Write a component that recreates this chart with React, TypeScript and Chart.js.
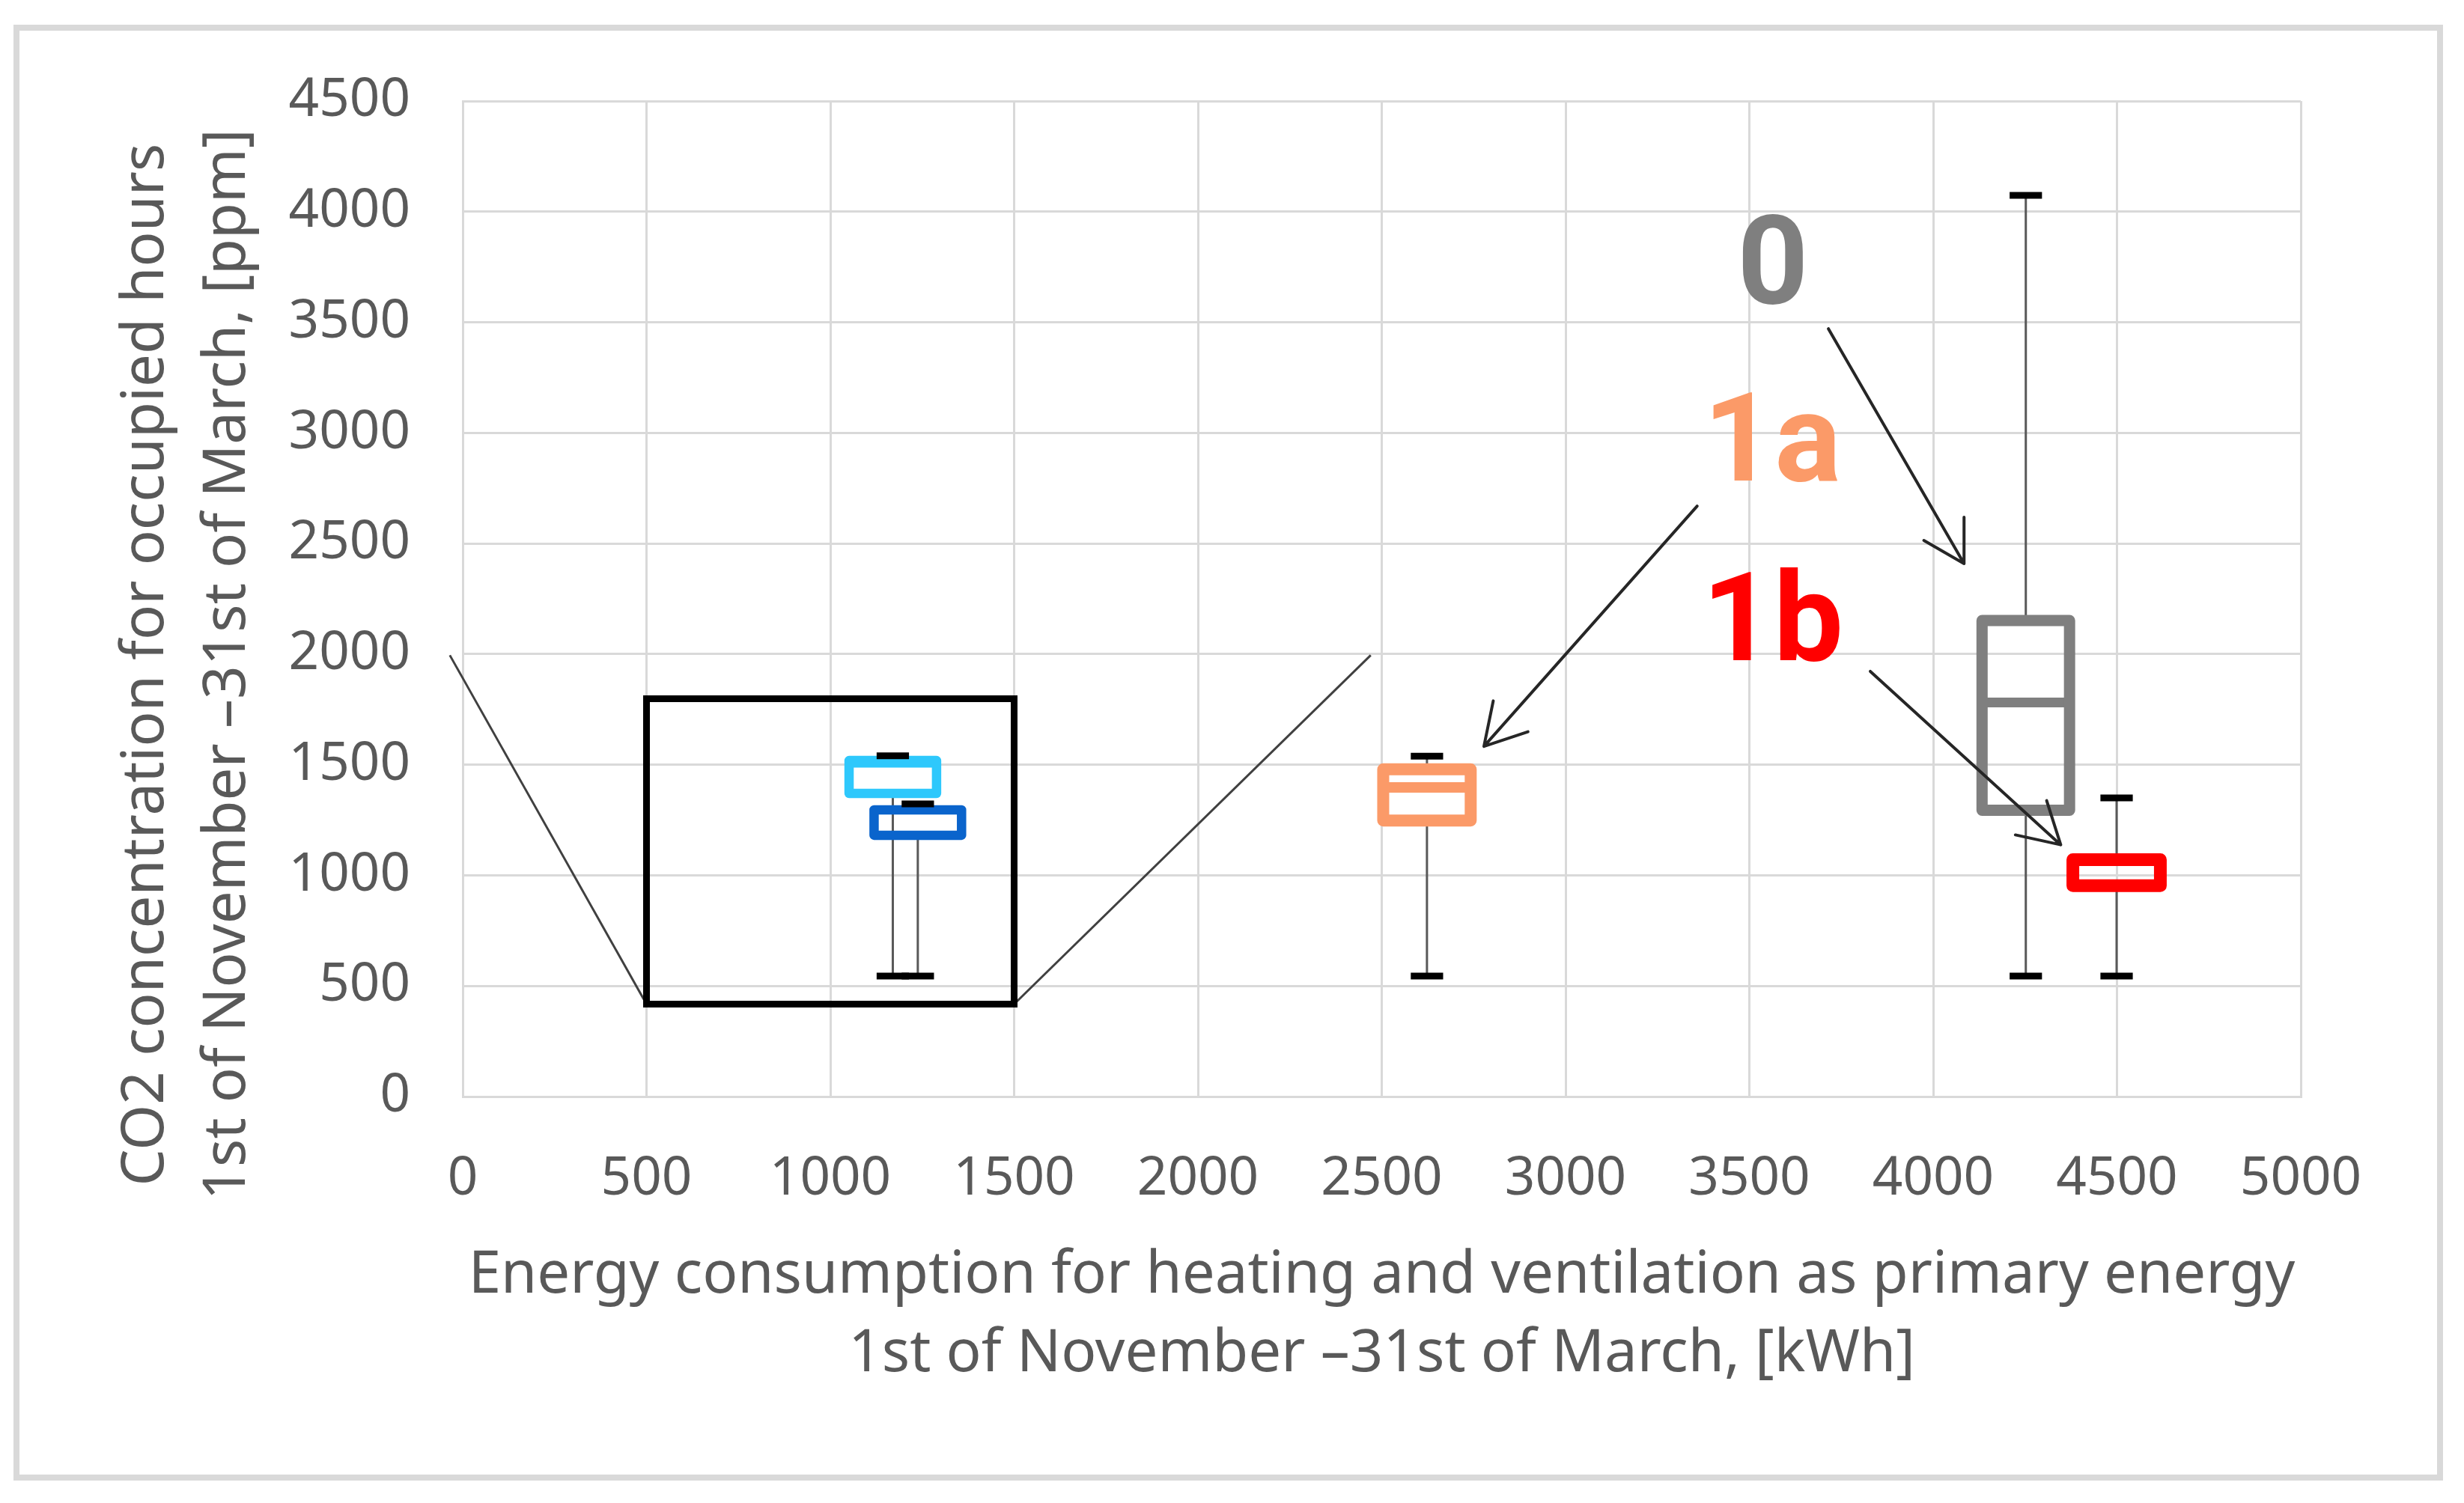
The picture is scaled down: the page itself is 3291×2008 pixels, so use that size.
import React, { useEffect, useRef } from 'react';
import { Chart, registerables } from 'chart.js';

Chart.register(...registerables);

// ---------------- data ----------------
const SERIES = ['A', 'B', '1a', '0', '1b'];
const ENERGY_KWH = [1170, 1238, 2623, 4252, 4499];
const CO2_MIN = [545, 545, 545, 545, 545];
const CO2_Q1 = [1370, 1181, 1248, 1294, 953];
const CO2_MEDIAN = [1505, 1296, 1397, 1781, 1071];
const CO2_Q3 = [1519, 1296, 1479, 2152, 1071];
const CO2_MAX = [1540, 1323, 1539, 4074, 1350];

const X_TICKS = ['0', '500', '1000', '1500', '2000', '2500', '3000', '3500', '4000', '4500', '5000'];
const Y_TICKS = ['0', '500', '1000', '1500', '2000', '2500', '3000', '3500', '4000', '4500'];

const X_TITLE = [
  'Energy consumption for heating and ventilation as primary energy',
  '1st of November \u201331st of March, [kWh]',
];
const Y_TITLE = [
  'CO2 concentration for occupied hours',
  '1st of November \u201331st of March, [ppm]',
];

// zoom frame and its connector lines (data units)
const ZOOM_X = [500, 1500];
const ZOOM_Y = [418, 1798];
const CONNECTOR_LEFT_X = [-35, 500];
const CONNECTOR_LEFT_Y = [1995, 418];
const CONNECTOR_RIGHT_X = [1500, 2470];
const CONNECTOR_RIGHT_Y = [418, 1995];

// annotation labels and arrows (data units)
const NOTE_TEXT = ['0', '1a', '1b'];
const NOTE_X = [3564, 3562, 3564];
const NOTE_Y = [3585, 2785, 1972];
const ARROW_FROM_X = [3715, 3358, 3829];
const ARROW_FROM_Y = [3471, 2669, 1922];
const ARROW_TO_X = [4084, 2778, 4347];
const ARROW_TO_Y = [2409, 1583, 1138];

// ---------------- styles ----------------
const BOX_COLORS = ['#2ec8fc', '#0a64cc', '#fb9a68', '#7f7f7f', '#ff0000'];
const BOX_STROKE = [12.5, 12.5, 16, 15, 17];
const NOTE_COLORS = ['#7f7f7f', '#fb9a68', '#ff0000'];
const BOX_HALF_WIDTH = 119;
const CAP_HALF_WIDTH = 44;
const TEXT_COLOR = '#595959';
const GRID_COLOR = '#d9d9d9';

const W = 3291;
const H = 2008;

function line(points: { x: number; y: number }[], extra: any) {
  return {
    type: 'line',
    data: points,
    showLine: true,
    fill: false,
    tension: 0,
    pointRadius: 0,
    pointHoverRadius: 0,
    borderCapStyle: 'butt',
    borderJoinStyle: 'miter',
    ...extra,
  };
}

function buildDatasets() {
  const ds: any[] = [];
  ds.push(
    line(
      [
        { x: ZOOM_X[0], y: ZOOM_Y[0] },
        { x: ZOOM_X[1], y: ZOOM_Y[0] },
        { x: ZOOM_X[1], y: ZOOM_Y[1] },
        { x: ZOOM_X[0], y: ZOOM_Y[1] },
        { x: ZOOM_X[0], y: ZOOM_Y[0] },
      ],
      { label: 'zoom', borderColor: '#000000', borderWidth: 9, borderCapStyle: 'square', order: 60 }
    )
  );
  ds.push(
    line(
      CONNECTOR_LEFT_X.map((x, i) => ({ x, y: CONNECTOR_LEFT_Y[i] })),
      { label: 'conn-l', borderColor: '#404040', borderWidth: 3, clip: false, order: 61 }
    )
  );
  ds.push(
    line(
      CONNECTOR_RIGHT_X.map((x, i) => ({ x, y: CONNECTOR_RIGHT_Y[i] })),
      { label: 'conn-r', borderColor: '#404040', borderWidth: 3, clip: false, order: 61 }
    )
  );
  SERIES.forEach((name, i) => {
    const e = ENERGY_KWH[i];
    const c = BOX_COLORS[i];
    ds.push(
      line(
        [
          { x: e, y: CO2_MAX[i] },
          { x: e, y: CO2_Q3[i] },
        ],
        { label: name + ' whisker up', borderColor: TEXT_COLOR, borderWidth: 3, order: 40 }
      )
    );
    ds.push(
      line(
        [
          { x: e, y: CO2_Q1[i] },
          { x: e, y: CO2_MIN[i] },
        ],
        { label: name + ' whisker down', borderColor: TEXT_COLOR, borderWidth: 3, order: 40 }
      )
    );
    ds.push(
      line(
        [
          { x: e - BOX_HALF_WIDTH, y: CO2_Q1[i] },
          { x: e + BOX_HALF_WIDTH, y: CO2_Q1[i] },
          { x: e + BOX_HALF_WIDTH, y: CO2_Q3[i] },
          { x: e - BOX_HALF_WIDTH, y: CO2_Q3[i] },
          { x: e - BOX_HALF_WIDTH, y: CO2_Q1[i] },
        ],
        {
          label: name + ' box',
          borderColor: c,
          borderWidth: BOX_STROKE[i],
          borderJoinStyle: 'round',
          borderCapStyle: 'round',
          order: 30,
        }
      )
    );
    ds.push(
      line(
        [
          { x: e - BOX_HALF_WIDTH, y: CO2_MEDIAN[i] },
          { x: e + BOX_HALF_WIDTH, y: CO2_MEDIAN[i] },
        ],
        { label: name + ' median', borderColor: c, borderWidth: BOX_STROKE[i] - 2, order: 30 }
      )
    );
    ds.push(
      line(
        [
          { x: e - CAP_HALF_WIDTH, y: CO2_MAX[i] },
          { x: e + CAP_HALF_WIDTH, y: CO2_MAX[i] },
        ],
        { label: name + ' cap max', borderColor: '#000000', borderWidth: 9, order: 20 }
      )
    );
    ds.push(
      line(
        [
          { x: e - CAP_HALF_WIDTH, y: CO2_MIN[i] },
          { x: e + CAP_HALF_WIDTH, y: CO2_MIN[i] },
        ],
        { label: name + ' cap min', borderColor: '#000000', borderWidth: 9, order: 20 }
      )
    );
  });
  return ds;
}

const overlayPlugin = {
  id: 'overlay',
  afterDatasetsDraw(chart: any) {
    const { ctx, chartArea } = chart;
    const xs = chart.scales.x;
    const ys = chart.scales.y;
    ctx.save();
    // arrows
    ctx.strokeStyle = '#262626';
    ctx.lineWidth = 4;
    ctx.lineCap = 'round';
    ctx.lineJoin = 'round';
    const L = 62;
    for (let i = 0; i < ARROW_FROM_X.length; i++) {
      const sx = xs.getPixelForValue(ARROW_FROM_X[i]);
      const sy = ys.getPixelForValue(ARROW_FROM_Y[i]);
      const tx = xs.getPixelForValue(ARROW_TO_X[i]);
      const ty = ys.getPixelForValue(ARROW_TO_Y[i]);
      const a = Math.atan2(sy - ty, sx - tx);
      ctx.beginPath();
      ctx.moveTo(sx, sy);
      ctx.lineTo(tx, ty);
      ctx.moveTo(tx + L * Math.cos(a + Math.PI / 6), ty + L * Math.sin(a + Math.PI / 6));
      ctx.lineTo(tx, ty);
      ctx.lineTo(tx + L * Math.cos(a - Math.PI / 6), ty + L * Math.sin(a - Math.PI / 6));
      ctx.stroke();
    }
    // labels
    ctx.font = 'bold 166px Roboto';
    ctx.textAlign = 'center';
    ctx.textBaseline = 'alphabetic';
    for (let i = 0; i < NOTE_TEXT.length; i++) {
      ctx.fillStyle = NOTE_COLORS[i];
      ctx.fillText(NOTE_TEXT[i], xs.getPixelForValue(NOTE_X[i]), ys.getPixelForValue(NOTE_Y[i]));
    }
    ctx.restore();

    // y axis title (two lines, rotated)
    ctx.save();
    ctx.translate(ys.left + 218, (chartArea.top + chartArea.bottom) / 2 + 88);
    ctx.rotate(-Math.PI / 2);
    ctx.font = '78px "Noto Sans"';
    ctx.fillStyle = TEXT_COLOR;
    ctx.textAlign = 'center';
    ctx.textBaseline = 'alphabetic';
    ctx.fillText(Y_TITLE[0], 0, 0);
    ctx.fillText(Y_TITLE[1], 0, 109);
    ctx.restore();
  },
};

export default function App() {
  const ref = useRef<HTMLCanvasElement | null>(null);

  useEffect(() => {
    if (!ref.current) return;
    const chart = new Chart(ref.current, {
      type: 'scatter',
      data: { datasets: buildDatasets() },
      options: {
        animation: false,
        responsive: false,
        devicePixelRatio: 1,
        events: [],
        layout: { padding: { left: 0, top: 135, right: 218, bottom: 100 } },
        plugins: {
          legend: { display: false },
          tooltip: { enabled: false },
        },
        scales: {
          x: {
            type: 'linear',
            min: 0,
            max: 5000,
            afterFit: (s: any) => {
              s.height = 443;
            },
            ticks: {
              stepSize: 500,
              autoSkip: false,
              maxRotation: 0,
              padding: 68,
              color: TEXT_COLOR,
              font: { family: 'Noto Sans', size: 71 },
              callback: (_v: any, i: number) => X_TICKS[i],
            },
            grid: { color: GRID_COLOR, lineWidth: 3, drawTicks: false },
            border: { color: GRID_COLOR, width: 3 },
            title: {
              display: true,
              text: X_TITLE,
              color: TEXT_COLOR,
              font: { family: 'Noto Sans', size: 78, lineHeight: '105px' },
              padding: { top: 0, bottom: 46 },
            },
          },
          y: {
            type: 'linear',
            min: 0,
            max: 4500,
            afterFit: (s: any) => {
              s.width = 618;
            },
            ticks: {
              stepSize: 500,
              autoSkip: false,
              padding: 70,
              color: TEXT_COLOR,
              font: { family: 'Noto Sans', size: 71 },
              callback: (_v: any, i: number) => Y_TICKS[i],
            },
            grid: { color: GRID_COLOR, lineWidth: 3, drawTicks: false },
            border: { color: GRID_COLOR, width: 3 },
            title: { display: false },
          },
        },
      } as any,
      plugins: [overlayPlugin],
    });
    return () => chart.destroy();
  }, []);

  return (
    <div style={{ position: 'absolute', left: 0, top: 0, width: W, height: H, background: '#ffffff', overflow: 'hidden' }}>
      <div
        style={{
          position: 'absolute',
          left: 18,
          top: 33,
          width: 3245,
          height: 1945,
          border: '8px solid #d9d9d9',
          boxSizing: 'border-box',
        }}
      />
      <canvas ref={ref} width={W} height={H} style={{ position: 'absolute', left: 0, top: 0, width: W, height: H }} />
    </div>
  );
}
